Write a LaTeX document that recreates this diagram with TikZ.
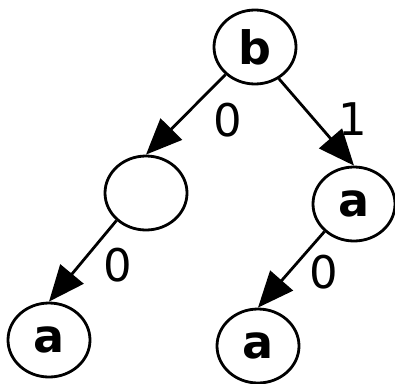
\documentclass[tikz,border=0pt]{standalone}
\usepackage{fontspec}
\setmainfont{DejaVu Sans}
\usetikzlibrary{shapes.geometric,arrows.meta}
\tikzset{
  st/.style={ellipse,draw,line width=2.8pt,minimum width=82pt,minimum height=74pt,inner sep=0pt,font=\fontsize{46}{46}\selectfont\bfseries},
  edge/.style={line width=2.8pt,-{Triangle[length=36pt,width=30pt]}},
  lbl/.style={inner sep=0pt,font=\fontsize{45}{45}\selectfont}
}
\begin{document}
\begin{tikzpicture}[x=1pt,y=-1pt]
\useasboundingbox (0,0) rectangle (395,383);
\node[st] (b) at (255,47) {b};
\node[st] (e) at (146,193) {};
\node[st] (ra) at (354,204) {a};
\node[st] (la) at (49,340) {a};
\node[st] (ba) at (258,346) {a};
\draw[edge] (b.223) -- (e.north);
\draw[edge] (b.307) -- (ra.north);
\draw[edge] (e.223) -- (la.north);
\draw[edge] (ra.223) -- (ba.north);
\node[lbl] (l1) at (228,120) {0};
\node[lbl] (l2) at (353,119) {1};
\node[lbl] (l3) at (118,265) {0};
\node[lbl] (l4) at (324,272) {0};
\end{tikzpicture}
\end{document}
